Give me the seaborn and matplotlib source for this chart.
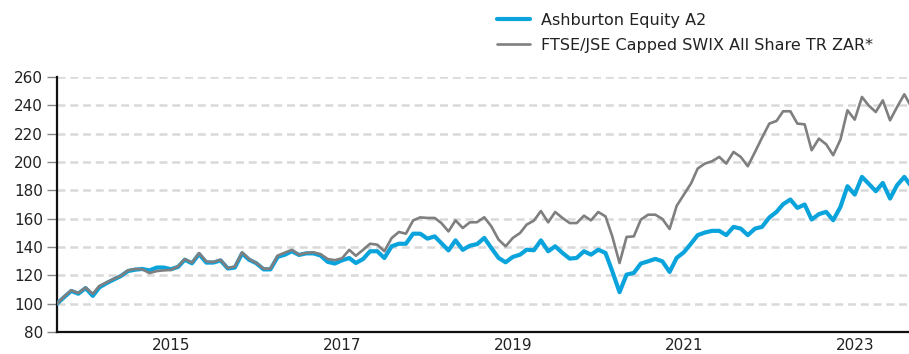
import numpy as np
import pandas as pd
import matplotlib
matplotlib.use("Agg")
import matplotlib.pyplot as plt
import matplotlib.dates as mdates
import seaborn as sns

# Cumulative growth of 100 invested, month-end values
dates = pd.date_range("2013-08-31", "2023-08-31", freq="ME")

fund_name = "Ashburton Equity A2"
bench_name = "FTSE/JSE Capped SWIX All Share TR ZAR*"

fund = [
    100.0, 104.5, 109.0, 107.0, 111.0, 105.5, 111.5, 114.5, 117.0, 119.5,
    123.0, 124.0, 124.5, 123.5, 125.5, 125.5, 124.3, 126.0, 131.0, 128.5,
    135.0, 129.0, 129.0, 130.5, 124.8, 125.5, 135.5, 131.0, 128.5, 124.2,
    124.2, 133.0, 134.5, 137.0, 134.4, 135.5, 135.5, 134.0, 129.5, 128.3,
    130.6, 132.2, 128.7, 131.5, 137.0, 137.0, 132.2, 140.5, 142.3, 142.3,
    149.4, 149.4, 145.9, 147.5, 142.8, 137.6, 144.7, 138.0, 140.9, 142.0,
    146.4, 139.3, 132.3, 129.2, 133.0, 134.6, 138.1, 137.7, 144.7, 137.0,
    140.5, 135.8, 131.8, 132.3, 137.0, 134.6, 138.1, 135.8, 122.9, 108.1,
    120.5, 121.7, 128.3, 129.9, 131.6, 129.9, 122.4, 132.3, 136.3, 142.5,
    148.4, 150.2, 151.4, 151.4, 148.4, 154.2, 153.0, 148.4, 153.0, 154.2,
    160.8, 164.8, 170.2, 173.5, 167.6, 170.0, 159.4, 163.2, 164.8, 158.9,
    168.3, 182.9, 177.0, 189.5, 184.8, 179.4, 185.2, 174.2, 183.6, 189.5,
    182.5,
]

bench = [
    100.0, 105.0, 109.4, 107.5, 111.3, 107.0, 112.5, 115.0, 117.5, 119.7,
    123.5, 124.5, 124.2, 121.6, 123.0, 123.5, 123.8, 126.4, 131.5, 129.0,
    135.7, 129.8, 129.4, 131.0, 125.0, 126.3, 136.2, 131.5, 128.7, 124.7,
    124.7, 133.9, 136.0, 138.0, 134.6, 135.8, 136.2, 135.0, 131.5, 130.7,
    132.0, 138.0, 133.8, 138.0, 142.3, 141.6, 137.0, 146.3, 150.6, 149.4,
    158.8, 160.9, 160.5, 160.5, 157.0, 151.0, 158.8, 153.4, 157.4, 157.5,
    161.0, 154.6, 145.2, 140.5, 146.4, 149.9, 155.8, 158.6, 165.4, 157.4,
    164.7, 160.5, 156.9, 156.9, 162.1, 158.8, 164.7, 161.6, 147.5, 128.7,
    147.1, 147.5, 159.3, 162.8, 162.8, 159.8, 152.7, 169.0, 177.0, 185.0,
    195.4, 198.9, 200.5, 203.6, 198.9, 207.1, 203.6, 197.0, 207.1, 217.2,
    227.1, 229.0, 235.8, 235.8, 227.1, 226.6, 208.3, 216.5, 212.5, 204.8,
    215.8, 236.5, 229.9, 245.9, 240.0, 235.3, 243.5, 229.4, 238.8, 247.8,
    238.5,
]

tick_years = [2015, 2017, 2019, 2021, 2023]
y_ticks = list(range(80, 261, 20))

df = pd.DataFrame({"date": dates, fund_name: fund, bench_name: bench})

sns.set_theme(style="white")
plt.rcParams["font.family"] = ["DejaVu Sans"]

fund_color = "#0AA3DC"
bench_color = "#7F7F7F"
text_color = "#222222"

fig = plt.figure(figsize=(9.09, 3.54), dpi=100)
ax = fig.add_axes([57 / 909, 1 - 332 / 354, 1 - 57 / 909, (332 - 77) / 354])

sns.lineplot(data=df, x="date", y=fund_name, ax=ax, color=fund_color,
             linewidth=3.0, label=fund_name, zorder=3)
sns.lineplot(data=df, x="date", y=bench_name, ax=ax, color=bench_color,
             linewidth=1.9, label=bench_name, zorder=4)

ax.set_xlim(pd.Timestamp("2013-08-31"), pd.Timestamp("2023-08-20"))
ax.set_ylim(80, 260)
ax.set_yticks(y_ticks)
ax.set_xticks([pd.Timestamp(f"{y}-01-01") for y in tick_years])
ax.xaxis.set_major_formatter(mdates.DateFormatter("%Y"))
ax.set_xlabel("")
ax.set_ylabel("")

# Dashed horizontal guides
for v in y_ticks[1:]:
    ax.axhline(v, color="#D9D9D9", linewidth=1.8, linestyle=(0, (3.2, 1.9)), zorder=1)

for side in ["top", "right"]:
    ax.spines[side].set_visible(False)
for side in ["left", "bottom"]:
    ax.spines[side].set_color("#111111")
    ax.spines[side].set_linewidth(1.6)

ax.tick_params(axis="y", which="major", length=7, width=1.0, color="#888888",
               labelsize=11, labelcolor=text_color, pad=3, left=True)
ax.tick_params(axis="x", which="major", length=0, labelsize=11,
               labelcolor=text_color, pad=4)

ax.get_legend().remove()
handles, labels = ax.get_legend_handles_labels()
fig.legend(handles, labels, loc="upper left", bbox_to_anchor=(497 / 909, 1 - 13 / 354),
           frameon=False, borderpad=0, borderaxespad=0, handlelength=2.05,
           handletextpad=0.7, labelspacing=0.6, fontsize=11.5,
           labelcolor=text_color)

fig.savefig("out.png", dpi=100)
